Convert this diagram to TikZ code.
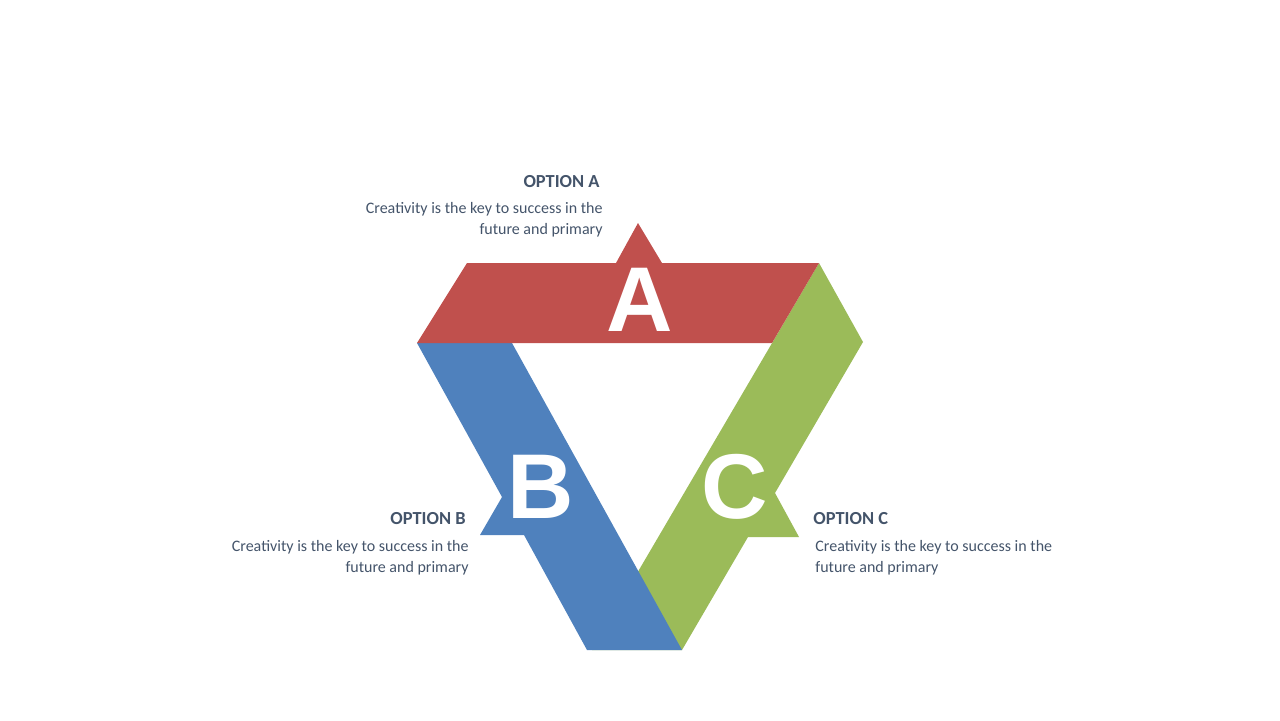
\documentclass[tikz,border=0pt]{standalone}
\usepackage{fontspec}
\setsansfont{Carlito}
\newfontfamily\letterfont{Liberation Sans}
\usetikzlibrary{
	positioning,
	calc,
	backgrounds,
}
\definecolor{MyRed}{HTML}{C0504D}
\definecolor{MyBlue}{HTML}{4F81BD}
\definecolor{MyGreen}{HTML}{9BBB59}
\definecolor{MySlate}{HTML}{44546A}
\tikzset{every picture/.style={/utils/exec={\sffamily}}}

\begin{document}
\begin{tikzpicture}	[
				x=0.5pt,y=-0.5pt,
				letter/.style={text=white,inner sep=0pt,anchor=base,font=\letterfont\bfseries\fontsize{46}{46}\selectfont},
				title/.style={text=MySlate,inner sep=0pt,font=\bfseries\fontsize{9.2}{10.5}\selectfont},
				body/.style={text=MySlate,inner sep=0pt,font=\fontsize{8}{10.5}\selectfont},
			]
			\useasboundingbox (0,0) rectangle (1280,720);

			% bands
			\fill[MyGreen] (819,263) -- (863,342) -- (775,493) -- (799,537) -- (748,537) -- (682,650) -- (592,650) -- cycle;
			\fill[MyBlue] (417,343) -- (512,343) -- (682,650) -- (587,650) -- (524,535) -- (480,535) -- (502,497) -- cycle;
			\fill[MyRed] (417,343) -- (467,263) -- (616,263) -- (638,223) -- (662,263) -- (819,263) -- (772,343) -- cycle;

			\node (A) [letter] at (640,331) {A};
			\node (B) [letter] at (541,518) {B};
			\node (C) [letter] at (735,518) {C};

			\node (optA) [title,anchor=base east] at (600,187) {OPTION A};
			\node (txtA) [body,anchor=base east,align=right] at (603,234) {Creativity is the key to success in the\\future and primary};
			\node (optB) [title,anchor=base east] at (466,524) {OPTION B};
			\node (txtB) [body,anchor=base east,align=right] at (469,572) {Creativity is the key to success in the\\future and primary};
			\node (optC) [title,anchor=base west] at (813,524) {OPTION C};
			\node (txtC) [body,anchor=base west,align=left] at (815,572) {Creativity is the key to success in the\\future and primary};
		\end{tikzpicture}
\end{document}
